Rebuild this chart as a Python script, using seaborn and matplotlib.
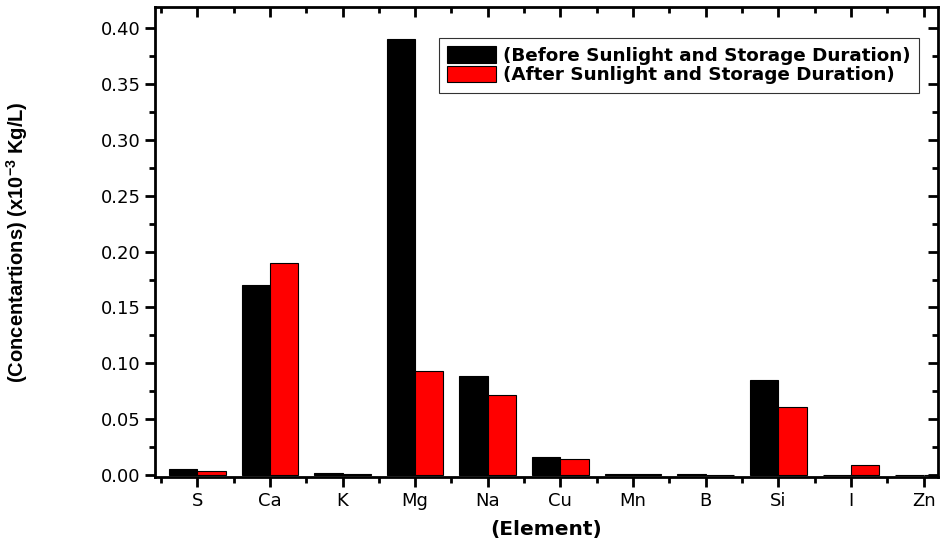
import matplotlib
matplotlib.use("Agg")
import matplotlib.pyplot as plt
import seaborn as sns
import pandas as pd
from matplotlib.ticker import MultipleLocator

elements = ["S", "Ca", "K", "Mg", "Na", "Cu", "Mn", "B", "Si", "I", "Zn"]
before = [0.005, 0.170, 0.002, 0.390, 0.089, 0.016, 0.001, 0.0005, 0.085, 0.0, 0.0]
after = [0.004, 0.190, 0.001, 0.093, 0.072, 0.014, 0.0005, 0.0, 0.061, 0.009, 0.0]
series = ["(Before Sunlight and Storage Duration)", "(After Sunlight and Storage Duration)"]

df = pd.DataFrame({
    "Element": elements * 2,
    "Value": before + after,
    "Series": [series[0]] * len(elements) + [series[1]] * len(elements),
})

sns.set_theme(style="ticks")
plt.rcParams['font.family'] = ['DejaVu Sans']
plt.rcParams['text.color'] = 'black'
plt.rcParams['axes.labelcolor'] = 'black'
plt.rcParams['xtick.color'] = 'black'
plt.rcParams['ytick.color'] = 'black'
plt.rcParams['mathtext.fontset'] = 'custom'
plt.rcParams['mathtext.rm'] = 'Liberation Sans:bold'
plt.rcParams['mathtext.bf'] = 'Liberation Sans:bold'
plt.rcParams['mathtext.it'] = 'Liberation Sans:bold'
plt.rcParams['mathtext.default'] = 'bf'

fig = plt.figure(figsize=(9.4, 5.46), dpi=100)
ax = fig.add_axes([0.165, 0.126, 0.833, 0.861])

sns.barplot(data=df, x="Element", y="Value", hue="Series", palette=["black", "red"],
            width=0.78, edgecolor="black", linewidth=0.8, ax=ax, saturation=1)

ax.set_xlim(-0.58, 10.2)
ax.yaxis.set_major_locator(MultipleLocator(0.05))
ax.yaxis.set_minor_locator(MultipleLocator(0.025))
ax.xaxis.set_minor_locator(MultipleLocator(0.5))
ax.set_yticks(ax.get_yticks())
ax.set_yticklabels([f"{v:.2f}" for v in ax.get_yticks()])
ax.set_ylim(-0.002, 0.419)

for s in ax.spines.values():
    s.set_visible(True)
    s.set_linewidth(2)
    s.set_color("black")

ax.tick_params(axis="both", which="major", direction="out", length=7, width=2,
               labelsize=13, colors="black")
ax.tick_params(axis="both", which="minor", direction="out", length=4, width=2)
ax.tick_params(axis="x", which="both", top=True)
ax.tick_params(axis="y", which="both", right=True)
for t in ax.xaxis.get_major_ticks() + ax.xaxis.get_minor_ticks():
    t.tick2line.set_marker(3)
for t in ax.yaxis.get_major_ticks() + ax.yaxis.get_minor_ticks():
    t.tick2line.set_marker(0)

ax.set_xlabel("(Element)", fontsize=14.5, fontweight="bold", family="DejaVu Sans")
ax.set_ylabel(r"(Concentartions) (x10$^{-3}$ Kg/L)", fontsize=14.5,
              fontweight="bold", family="Liberation Sans")
ax.xaxis.set_label_coords(0.5, -0.092)
ax.yaxis.set_label_coords(-0.16, 0.5)

leg = ax.legend(loc="upper right", bbox_to_anchor=(0.975, 0.934), frameon=True,
                fancybox=False, edgecolor="black",
                prop={"weight": "bold", "size": 13.2, "family": "DejaVu Sans"},
                handlelength=2.7, handleheight=1.0, handletextpad=0.35,
                borderpad=0.45, labelspacing=0.05, borderaxespad=0)
leg.get_frame().set_linewidth(0.8)

fig.savefig("out.png", dpi=100)
